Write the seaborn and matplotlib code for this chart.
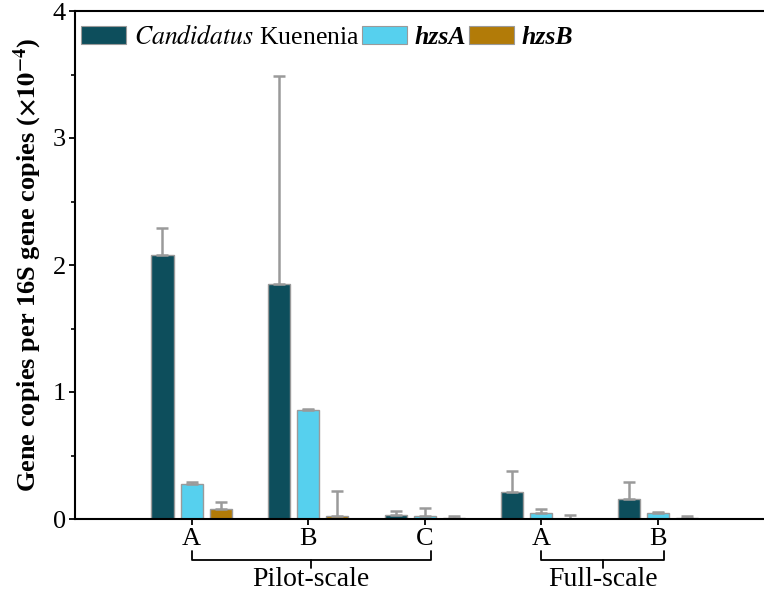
import numpy as np
import pandas as pd
import matplotlib
matplotlib.use("Agg")
import matplotlib.pyplot as plt
import seaborn as sns
from matplotlib.patches import Patch
from matplotlib.ticker import MultipleLocator

# sample groups (pilot A, B, C and full-scale A, B)
groups = ["P-A", "P-B", "P-C", "F-A", "F-B"]
group_labels = ["A", "B", "C", "A", "B"]
genes = ["Kuenenia", "hzsA", "hzsB"]

# mean values (x10^-4)
kuenenia = [2.08, 1.85, 0.03, 0.21, 0.16]
hzsA = [0.276, 0.86, 0.025, 0.05, 0.045]
hzsB = [0.08, 0.02, 0.01, 0.003, 0.01]

# upper error bar lengths
kuenenia_err = [0.21, 1.64, 0.035, 0.17, 0.13]
hzsA_err = [0.015, 0.01, 0.065, 0.03, 0.008]
hzsB_err = [0.05, 0.20, 0.01, 0.027, 0.01]

colors = {"Kuenenia": "#0d4e5c", "hzsA": "#56d0ee", "hzsB": "#b27b08"}

df = pd.DataFrame({
    "group": groups * 3,
    "gene": ["Kuenenia"] * 5 + ["hzsA"] * 5 + ["hzsB"] * 5,
    "value": kuenenia + hzsA + hzsB,
})
errs = {"Kuenenia": kuenenia_err, "hzsA": hzsA_err, "hzsB": hzsB_err}

sns.set_style("ticks")
plt.rcParams["font.family"] = ["Liberation Serif", "DejaVu Serif"]
plt.rcParams["mathtext.fontset"] = "stix"
plt.rcParams["text.color"] = "black"
plt.rcParams["axes.labelcolor"] = "black"
plt.rcParams["xtick.color"] = "black"
plt.rcParams["ytick.color"] = "black"

fig = plt.figure(figsize=(7.64, 5.98), dpi=100)
ax = fig.add_axes([75 / 764, 79 / 598, 1 - 75 / 764, 508 / 598])

sns.barplot(data=df, x="group", y="value", hue="gene", order=groups,
            hue_order=genes, palette=colors, saturation=1, width=0.75, gap=0.24,
            edgecolor="#9a9a9a", linewidth=1, errorbar=None, legend=False, ax=ax)

# error bars (upper only)
for gene, cont in zip(genes, ax.containers):
    xs = [b.get_x() + b.get_width() / 2 for b in cont]
    hs = [b.get_height() for b in cont]
    ax.errorbar(xs, hs, yerr=[np.zeros(len(xs)), errs[gene]], fmt="none",
                ecolor="#9a9a9a", elinewidth=1.8, capsize=4.5, capthick=1.8, zorder=1)

ax.set_xlim(-1.0, 4.91)
ax.set_ylim(0, 4)
ax.set_xticks(range(len(groups)))
ax.set_xticklabels(group_labels)
ax.yaxis.set_major_locator(MultipleLocator(1))
ax.yaxis.set_minor_locator(MultipleLocator(0.5))
ax.tick_params(axis="both", which="major", direction="out", length=4.5, width=1.3,
               labelsize=19, pad=2, colors="black")
ax.tick_params(axis="y", which="minor", direction="out", length=3, width=1.2, colors="black")
ax.set_xlabel("")
ax.set_ylabel(r"Gene copies per 16S gene copies ($\mathbf{\times10^{-4}}$)",
              fontsize=19, fontweight="bold", labelpad=6, color="black")

for s in ["left", "bottom", "top"]:
    ax.spines[s].set_linewidth(1.5)
    ax.spines[s].set_color("black")
ax.spines["right"].set_visible(False)

# brackets under the x axis
tr = ax.get_xaxis_transform()
def bracket(x0, x1, label):
    xm = (x0 + x1) / 2
    ax.plot([x0, x0, x1, x1], [-0.063, -0.080, -0.080, -0.063], color="black",
            lw=1.3, transform=tr, clip_on=False)
    ax.plot([xm, xm], [-0.080, -0.096], color="black", lw=1.3, transform=tr, clip_on=False)
    ax.text(xm, -0.095, label, transform=tr, ha="center", va="top", fontsize=20, color="black")

bracket(0, 2.05, "Pilot-scale")
bracket(3, 4.05, "Full-scale")

handles = [Patch(facecolor=colors[g], edgecolor="#9a9a9a", linewidth=0.8) for g in genes]
leg = ax.legend(handles, [r"$\it{Candidatus}$ Kuenenia", "hzsA", "hzsB"],
                loc="upper left", bbox_to_anchor=(81 / 764, 1 - 25 / 598),
                bbox_transform=fig.transFigure, ncol=3, frameon=False, fontsize=18.5,
                handlelength=1.75, handleheight=0.7, handletextpad=0.3,
                columnspacing=0.1, borderpad=0, borderaxespad=0)
for t in leg.get_texts():
    t.set_color("black")
for t in leg.get_texts()[1:]:
    t.set_fontstyle("italic")
    t.set_fontweight("bold")

fig.savefig("out.png", dpi=100)
